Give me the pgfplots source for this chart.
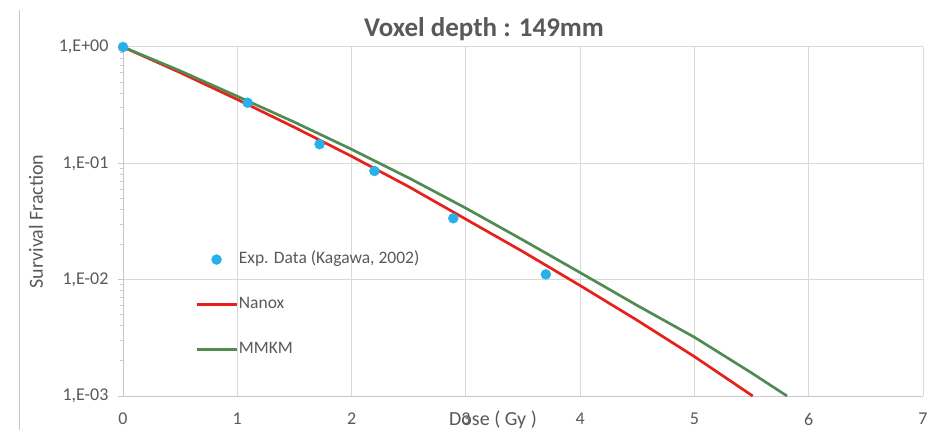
\documentclass[border=0pt]{standalone}
\usepackage{fontspec}
\setmainfont{Carlito}
\usepackage{pgfplots}
\pgfplotsset{compat=1.18}

\definecolor{txtgray}{RGB}{89,89,89}
\definecolor{gridgray}{RGB}{217,217,217}
\definecolor{axisgray}{RGB}{200,200,200}
\definecolor{expblue}{RGB}{41,176,232}
\definecolor{nanored}{RGB}{232,32,28}
\definecolor{mmkmgreen}{RGB}{80,140,82}

\pgfplotsset{
  lineleg/.style={legend image code/.code={\draw[##1] (0bp,0bp) -- (40bp,0bp);}},
  markleg/.style={legend image code/.code={\draw[mark repeat=2, mark phase=2, ##1]
      plot coordinates {(0bp,0bp) (20bp,0bp) (40bp,0bp)};}},
}

\begin{document}
\begin{tikzpicture}[x=1bp,y=1bp]
  \useasboundingbox (0,0) rectangle (949,430);
  % chart frame edge on the left
  \draw[axisgray, line width=1bp] (19,0) -- (19,420);
  \begin{axis}[
    at={(123bp,34bp)}, anchor=south west,
    scale only axis, width=800bp, height=349bp,
    ymode=log,
    xmin=0, xmax=7, ymin=1e-3, ymax=1,
    clip=false,
    axis x line*=bottom, axis y line*=left,
    axis line style={draw=axisgray, line width=1bp, -},
    grid=major,
    major grid style={draw=gridgray, line width=1bp},
    xtick={0,1,2,3,4,5,6,7},
    xticklabels={0,1,2,3,4,5,6,7},
    ytick={0.001,0.01,0.1,1},
    yticklabels={{1,E-03},{1,E-02},{1,E-01},{1,E+00}},
    minor y tick num=0,
    minor tick style={draw=none},
    tick align=outside,
    major tick length=5bp,
    xtick style={draw=none},
    ytick style={draw=axisgray, line width=1bp},
    tick label style={font=\fontsize{18bp}{21bp}\selectfont, text=txtgray},
    xticklabel style={yshift=-10bp, inner sep=2bp},
    yticklabel style={xshift=-6bp},
    xlabel={Dose ( Gy )},
    xlabel style={at={(axis description cs:0.4625,0)}, anchor=center, yshift=-24bp,
      inner sep=1bp, font=\fontsize{20bp}{23bp}\selectfont, text=txtgray},
    ylabel={Survival Fraction},
    ylabel style={at={(axis description cs:-0.10875,0.5)}, anchor=center,
      font=\fontsize{20bp}{23bp}\selectfont, text=txtgray},
    legend cell align=left,
    legend style={draw=none, fill=none, inner sep=0pt,
      at={(axis description cs:0.09,0.262)}, anchor=west,
      row sep=27bp,
      font=\fontsize{17.5bp}{20bp}\selectfont, text=txtgray,
      nodes={inner sep=1bp, text height=12bp, text depth=4bp}},
  ]
    % Exp. Data (Kagawa, 2002)
    \addplot[only marks, mark=*, mark size=5bp, color=expblue, markleg]
      coordinates {
        (0,1) (1.09,0.332) (1.72,0.146) (2.2,0.0859) (2.89,0.0337) (3.7,0.0111)
      };
    \addlegendentry{Exp. Data (Kagawa, 2002)}
    % Nanox
    \addplot[nanored, line width=2.7bp, mark=none, lineleg]
      coordinates {
        (0,1) (0.5,0.603) (1,0.354) (1.5,0.204) (2,0.115) (2.5,0.063)
        (3,0.0331) (3.5,0.0174) (4,0.0089) (4.5,0.00447) (5,0.00218) (5.51,0.001)
      };
    \addlegendentry{Nanox}
    % MMKM
    \addplot[mmkmgreen, line width=2.7bp, mark=none, lineleg]
      coordinates {
        (0,1) (0.5,0.624) (1,0.377) (1.5,0.226) (2,0.132) (2.5,0.075)
        (3,0.0412) (3.5,0.0219) (4,0.0115) (4.5,0.0060) (5,0.0032) (5.5,0.00158) (5.81,0.001)
      };
    \addlegendentry{MMKM}
  \end{axis}
  \node[font=\bfseries\fontsize{27bp}{31bp}\selectfont, text=txtgray] at (484,401) {Voxel depth : 149mm};
\end{tikzpicture}
\end{document}
